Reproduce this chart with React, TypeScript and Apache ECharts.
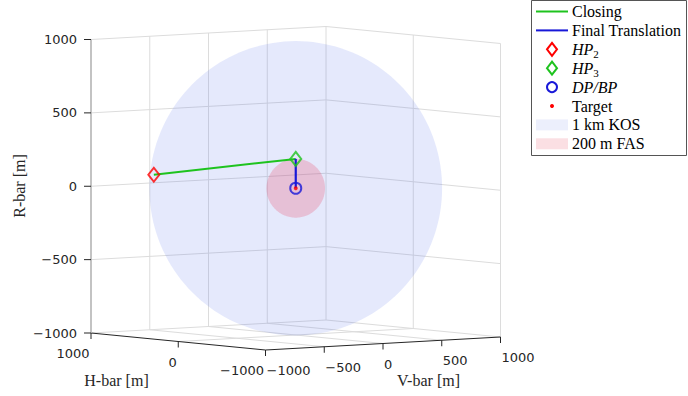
import React, { useEffect, useRef } from "react";
import * as echarts from "echarts";

// ---------- data (metres: [H-bar, V-bar, R-bar]) ----------
const hp2 = [280, -1000, 120];
const hp3 = [0, 0, 200];
const dpbp = [0, 0, 0];
const target = [0, 0, 0];
const closingPath = [hp2, hp3];
const finalPath = [hp3, dpbp];
const kosRadius = 1000;
const fasRadius = 200;
const axisLimit = 1000;
const hTicks = [-1000, 0, 1000];
const vTicks = [-1000, -500, 0, 500, 1000];
const rTicks = [-1000, -500, 0, 500, 1000];

// ---------- orthographic view (screen px per metre) ----------
const VIEW = {
  ox: 295.75,
  oy: 188.25,
  h: [-0.08725, -0.0085],
  v: [0.1175, -0.0065],
  r: [0, -0.14675],
};
const proj = (p: number[]) => [
  VIEW.ox + p[0] * VIEW.h[0] + p[1] * VIEW.v[0] + p[2] * VIEW.r[0],
  VIEW.oy + p[0] * VIEW.h[1] + p[1] * VIEW.v[1] + p[2] * VIEW.r[1],
];

function sphereOutline(c: number[], R: number, n = 160) {
  const a = VIEW.h[0] ** 2 + VIEW.v[0] ** 2 + VIEW.r[0] ** 2;
  const b = VIEW.h[0] * VIEW.h[1] + VIEW.v[0] * VIEW.v[1] + VIEW.r[0] * VIEW.r[1];
  const d = VIEW.h[1] ** 2 + VIEW.v[1] ** 2 + VIEW.r[1] ** 2;
  const s = Math.sqrt(a * d - b * b);
  const t = Math.sqrt(a + d + 2 * s);
  const S = [[(a + s) / t, b / t], [b / t, (d + s) / t]];
  const pc = proj(c);
  const pts: number[][] = [];
  for (let i = 0; i < n; i++) {
    const th = (2 * Math.PI * i) / n;
    const u = Math.cos(th), w = Math.sin(th);
    pts.push([pc[0] + R * (S[0][0] * u + S[0][1] * w), pc[1] + R * (S[1][0] * u + S[1][1] * w)]);
  }
  return pts;
}

const GREEN = "#1ec31e";
const BLUE = "#1818d8";
const RED = "#ff0000";
const GRID = "#dcdcdc";
const TXT = "#262626";
const SERIF = '"Liberation Serif", serif';
const SANS = '"DejaVu Sans", sans-serif';

const fmt = (v: number) => (v < 0 ? "\u2212" + Math.abs(v) : String(v));

export default function App() {
  const ref = useRef<HTMLDivElement>(null);
  useEffect(() => {
    if (!ref.current) return;
    const chart = echarts.init(ref.current, undefined, { renderer: "svg" });
    const L = axisLimit;
    const seg = (p: number[], q: number[], kind: number) => {
      const a = proj(p), b = proj(q);
      return [a[0], a[1], b[0], b[1], kind];
    };
    const segs: number[][] = [];
    // left back wall (H = +L)
    vTicks.filter((v) => v > -L).forEach((v) => segs.push(seg([L, v, -L], [L, v, L], 0)));
    rTicks.filter((r) => r > -L).forEach((r) => segs.push(seg([L, -L, r], [L, L, r], 0)));
    // right back wall (V = +L)
    hTicks.filter((h) => h < L).forEach((h) => segs.push(seg([h, L, -L], [h, L, L], 0)));
    rTicks.filter((r) => r > -L).forEach((r) => segs.push(seg([-L, L, r], [L, L, r], 0)));
    // floor (R = -L)
    vTicks.filter((v) => v > -L).forEach((v) => segs.push(seg([-L, v, -L], [L, v, -L], 0)));
    hTicks.filter((h) => h > -L).forEach((h) => segs.push(seg([h, -L, -L], [h, L, -L], 0)));
    // axes
    const axisSegs: number[][] = [];
    axisSegs.push(seg([-L, -L, -L], [L, -L, -L], 1));
    axisSegs.push(seg([-L, -L, -L], [-L, L, -L], 1));
    axisSegs.push(seg([L, -L, -L], [L, -L, L], 2));
    // ticks
    hTicks.forEach((h) => { const p = proj([h, -L, -L]); axisSegs.push([p[0], p[1], p[0], p[1] + 6, 3]); });
    vTicks.forEach((v) => { const p = proj([-L, v, -L]); axisSegs.push([p[0], p[1], p[0], p[1] + 6, 3]); });
    rTicks.forEach((r) => { const p = proj([L, -L, r]); axisSegs.push([p[0] - 7, p[1], p[0], p[1], 3]); });

    const outlines = [sphereOutline(target, kosRadius), sphereOutline(target, fasRadius)];
    const outlineFill = ["rgba(80,110,235,0.15)", "rgba(235,55,90,0.23)"];

    const segRender = (params: any, api: any) => {
      const a = api.coord([api.value(0), api.value(1)]);
      const b = api.coord([api.value(2), api.value(3)]);
      const k = api.value(4);
      const stroke = k === 0 ? GRID : k === 2 ? "#b4b4b4" : TXT;
      const lw = k === 2 ? 1.6 : 1;
      return {
        type: "line",
        shape: { x1: a[0], y1: a[1], x2: b[0], y2: b[1] },
        style: { stroke, lineWidth: lw },
        silent: true,
      };
    };

    // tick labels
    const labels: any[] = [];
    const tstyle = (text: string, x: number, y: number, align: string) => ({
      type: "text",
      x, y,
      style: {
        text, font: `13px ${SANS}`, fill: TXT,
        textAlign: align, align, textVerticalAlign: "middle", verticalAlign: "middle",
      },
      silent: true,
    });
    rTicks.forEach((r) => { const p = proj([L, -L, r]); labels.push(tstyle(fmt(r), p[0] - 14, p[1], "right")); });
    hTicks.forEach((h) => { const p = proj([h, -L, -L]); labels.push(tstyle(fmt(h), p[0] - 1.5, p[1] + 20.5, "right")); });
    vTicks.forEach((v) => { const p = proj([-L, v, -L]); labels.push(tstyle(fmt(v), p[0] + 1, p[1] + 20.5, "left")); });

    const titleStyle = (text: string, x: number, y: number, rot = 0) => ({
      type: "text", x, y, rotation: rot,
      style: {
        text, font: `16px ${SERIF}`, fill: TXT,
        textAlign: "center", align: "center", textVerticalAlign: "middle", verticalAlign: "middle",
      },
      silent: true,
    });

    // legend
    const rowY = (i: number) => 11.5 + i * 18.9;
    const lx0 = 536, lx1 = 568, lmx = 552, ltx = 572;
    const ltext = (i: number, text: string, rich?: any) => ({
      type: "text", x: ltx, y: rowY(i),
      style: {
        text, font: `16px ${SERIF}`, fill: "#000", rich,
        textAlign: "left", align: "left", textVerticalAlign: "middle", verticalAlign: "middle",
      },
    });
    const richSub = {
      i: { fontFamily: SERIF, fontSize: 16, fontStyle: "italic", lineHeight: 20, fill: "#000", color: "#000" },
      s: { fontFamily: SERIF, fontSize: 11, verticalAlign: "bottom", fill: "#000", color: "#000" },
    };
    const diamond = (i: number, color: string) => {
      const y = rowY(i);
      return {
        type: "polygon",
        shape: { points: [[lmx, y - 6.5], [lmx + 5, y], [lmx, y + 6.5], [lmx - 5, y]] },
        style: { fill: "none", stroke: color, lineWidth: 2 },
      };
    };
    const legendEls: any[] = [
      { type: "rect", shape: { x: 531.5, y: 0.5, width: 155, height: 155 }, style: { fill: "#fff", stroke: "#555", lineWidth: 1 } },
      { type: "line", shape: { x1: lx0, y1: rowY(0), x2: lx1, y2: rowY(0) }, style: { stroke: GREEN, lineWidth: 2 } },
      ltext(0, "Closing"),
      { type: "line", shape: { x1: lx0, y1: rowY(1), x2: lx1, y2: rowY(1) }, style: { stroke: BLUE, lineWidth: 2 } },
      ltext(1, "Final Translation"),
      diamond(2, RED),
      ltext(2, "{i|HP}{s|2}", richSub),
      diamond(3, GREEN),
      ltext(3, "{i|HP}{s|3}", richSub),
      { type: "circle", shape: { cx: lmx, cy: rowY(4), r: 5 }, style: { fill: "none", stroke: BLUE, lineWidth: 2 } },
      ltext(4, "{i|DP/BP}", richSub),
      { type: "circle", shape: { cx: lmx, cy: rowY(5), r: 2 }, style: { fill: RED } },
      ltext(5, "Target"),
      { type: "rect", shape: { x: lx0, y: rowY(6) - 5.5, width: lx1 - lx0, height: 11 }, style: { fill: "#eceffc" } },
      ltext(6, "1 km KOS"),
      { type: "rect", shape: { x: lx0, y: rowY(7) - 5.5, width: lx1 - lx0, height: 11 }, style: { fill: "#fbdfe3" } },
      ltext(7, "200 m FAS"),
    ];

    chart.setOption({
      animation: false,
      backgroundColor: "#ffffff",
      grid: { left: 0, right: 0, top: 0, bottom: 0 },
      xAxis: { type: "value", min: 0, max: 688, show: false },
      yAxis: { type: "value", min: 0, max: 396, inverse: true, show: false },
      series: [
        { type: "custom", name: "grid", data: segs, renderItem: segRender, clip: false, silent: true, z: 1 },
        {
          type: "custom", name: "spheres", data: [[0], [1]], clip: false, silent: true, z: 2,
          renderItem: (params: any, api: any) => {
            const idx = params.dataIndex;
            const pts = outlines[idx].map((p) => api.coord(p));
            return { type: "polygon", shape: { points: pts }, style: { fill: outlineFill[idx] } };
          },
        },
        { type: "custom", name: "axes", data: axisSegs, renderItem: segRender, clip: false, silent: true, z: 3 },
        {
          type: "line", name: "Closing", data: closingPath.map(proj), symbol: "none", z: 4,
          lineStyle: { color: GREEN, width: 2 },
        },
        {
          type: "line", name: "Final Translation", data: finalPath.map(proj), symbol: "none", z: 4,
          lineStyle: { color: BLUE, width: 2.2 },
        },
        {
          type: "scatter", name: "HP2", data: [proj(hp2)], symbol: "diamond", symbolSize: [11, 14], z: 5,
          itemStyle: { color: "rgba(0,0,0,0)", borderColor: RED, borderWidth: 2 },
        },
        {
          type: "scatter", name: "HP3", data: [proj(hp3)], symbol: "diamond", symbolSize: [11, 14], z: 5,
          itemStyle: { color: "rgba(0,0,0,0)", borderColor: GREEN, borderWidth: 2 },
        },
        {
          type: "scatter", name: "DP/BP", data: [proj(dpbp)], symbol: "circle", symbolSize: 11, z: 5,
          itemStyle: { color: "rgba(0,0,0,0)", borderColor: BLUE, borderWidth: 2 },
        },
        {
          type: "scatter", name: "Target", data: [proj(target)], symbol: "circle", symbolSize: 4, z: 6,
          itemStyle: { color: RED },
        },
      ],
      graphic: [
        ...labels,
        titleStyle("R-bar [m]", 19, 186, Math.PI / 2),
        titleStyle("H-bar [m]", 116.5, 380),
        titleStyle("V-bar [m]", 428.5, 380),
        { type: "group", z: 100, children: legendEls },
      ],
    });
    return () => chart.dispose();
  }, []);
  return <div ref={ref} style={{ position: "fixed", left: 0, top: 0, width: 688, height: 396 }} />;
}
